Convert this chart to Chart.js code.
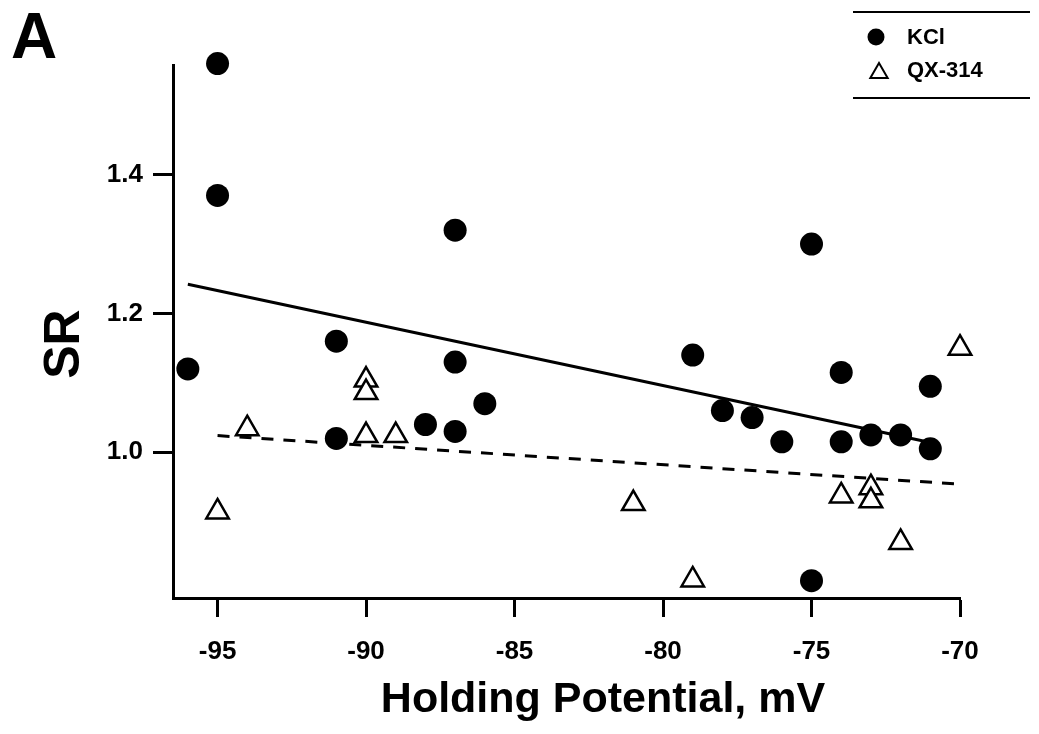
<!DOCTYPE html>
<html>
<head>
<meta charset="utf-8">
<script src="https://cdn.jsdelivr.net/npm/chart.js@4/dist/chart.umd.min.js"></script>
<style>
  html, body { margin: 0; padding: 0; background: #fff; }
  #wrap { width: 1039px; height: 734px; }
</style>
</head>
<body>
<div id="wrap"><canvas id="c" width="1039" height="734"></canvas></div>
<script>
// 数据
const kclX = [-96, -95, -95, -91, -91, -88, -87, -87, -87, -86, -79, -78, -77, -76, -75, -75, -74, -74, -73, -72, -71, -71];
const kclY = [1.12, 1.56, 1.37, 1.16, 1.02, 1.04, 1.32, 1.13, 1.03, 1.07, 1.14, 1.06, 1.05, 1.015, 1.30, 0.815, 1.115, 1.015, 1.025, 1.025, 1.095, 1.005];

const qxX = [-95, -94, -90, -90, -90, -89, -81, -79, -74, -73, -73, -72, -70];
const qxY = [0.914, 1.034, 1.104, 1.086, 1.024, 1.024, 0.926, 0.816, 0.937, 0.949, 0.930, 0.870, 1.150];

// 回归线端点
const kclFitX = [-96, -71];
const kclFitY = [1.242, 1.014];
const qxFitX = [-95, -70];
const qxFitY = [1.024, 0.954];

const xTicks = [-95, -90, -85, -80, -75, -70];
const yTicks = [1.0, 1.2, 1.4];

const FONT = "'Liberation Sans', Arial, Helvetica, sans-serif";

function pts(xs, ys) {
    return xs.map((x, i) => ({ x: x, y: ys[i] }));
}

// 图例 + 面板字母 + 轴标题
const extras = {
    id: 'extras',
    afterDraw(chart) {
        const ctx = chart.ctx;
        ctx.save();
        ctx.fillStyle = '#000';
        ctx.font = 'bold 64px ' + FONT;
        ctx.textBaseline = 'alphabetic';
        ctx.textAlign = 'left';
        ctx.fillText('A', 11, 58);

        // 轴标题
        ctx.font = 'bold 43px ' + FONT;
        ctx.textAlign = 'center';
        ctx.fillText('Holding Potential, mV', 603, 712);
        ctx.save();
        ctx.translate(79, 344);
        ctx.rotate(-Math.PI / 2);
        ctx.font = 'bold 50px ' + FONT;
        ctx.fillText('SR', 0, 0);
        ctx.restore();

        ctx.strokeStyle = '#000';
        ctx.lineWidth = 2;
        ctx.beginPath();
        ctx.moveTo(853, 12); ctx.lineTo(1030, 12);
        ctx.moveTo(853, 98); ctx.lineTo(1030, 98);
        ctx.stroke();

        // KCl marker
        ctx.beginPath();
        ctx.arc(876, 37, 8.5, 0, Math.PI * 2);
        ctx.fill();
        // QX-314 marker
        const r = 10;
        const cx = 879, cy = 73;
        ctx.beginPath();
        ctx.moveTo(cx, cy - r);
        ctx.lineTo(cx + Math.sin(2 * Math.PI / 3) * r, cy + r / 2);
        ctx.lineTo(cx - Math.sin(2 * Math.PI / 3) * r, cy + r / 2);
        ctx.closePath();
        ctx.lineWidth = 2;
        ctx.stroke();

        ctx.font = 'bold 22px ' + FONT;
        ctx.textAlign = 'left';
        ctx.textBaseline = 'middle';
        ctx.fillText('KCl', 907, 38);
        ctx.fillText('QX-314', 907, 71);
        ctx.restore();
    }
};

new Chart(document.getElementById('c'), {
    type: 'scatter',
    data: {
        datasets: [
            {
                label: 'KCl',
                data: pts(kclX, kclY),
                pointStyle: 'circle',
                pointRadius: 11.5,
                backgroundColor: '#000',
                borderColor: '#000',
                borderWidth: 0,
                clip: false,
                order: 1,
            },
            {
                label: 'QX-314',
                data: pts(qxX, qxY),
                pointStyle: 'triangle',
                pointRadius: 13,
                backgroundColor: '#fff',
                borderColor: '#000',
                borderWidth: 2.5,
                clip: false,
                order: 1,
            },
            {
                label: 'KCl fit',
                data: pts(kclFitX, kclFitY),
                showLine: true,
                pointRadius: 0,
                borderColor: '#000',
                borderWidth: 3,
                clip: false,
                order: 2,
            },
            {
                label: 'QX-314 fit',
                data: pts(qxFitX, qxFitY),
                showLine: true,
                pointRadius: 0,
                borderColor: '#000',
                borderWidth: 3,
                borderDash: [12, 10],
                clip: false,
                order: 2,
            },
        ]
    },
    options: {
        responsive: false,
        animation: false,
        events: [],
        layout: { padding: { top: 65, right: 79, left: 0, bottom: 0 } },
        scales: {
            x: {
                type: 'linear',
                min: -96.5,
                max: -70,
                afterBuildTicks: s => { s.ticks = xTicks.map(v => ({ value: v })); },
                afterFit: s => { s.height = 136; },
                border: { display: true, color: '#000', width: 3 },
                grid: { display: true, drawOnChartArea: false, drawTicks: true, tickLength: 19, tickWidth: 3, tickColor: '#000' },
                ticks: { color: '#000', font: { family: FONT, size: 26, weight: 'bold' }, padding: 19, maxRotation: 0,
                         callback: v => String(v) },
            },
            y: {
                type: 'linear',
                min: 0.79,
                max: 1.558,
                afterBuildTicks: s => { s.ticks = yTicks.map(v => ({ value: v })); },
                afterFit: s => { s.width = 173; },
                border: { display: true, color: '#000', width: 3 },
                grid: { display: true, drawOnChartArea: false, drawTicks: true, tickLength: 20, tickWidth: 3, tickColor: '#000' },
                ticks: { color: '#000', font: { family: FONT, size: 26, weight: 'bold' }, padding: 10,
                         callback: v => v.toFixed(1) },
            },
        },
        plugins: {
            legend: { display: false },
            tooltip: { enabled: false },
        }
    },
    plugins: [extras]
});
</script>
</body>
</html>
